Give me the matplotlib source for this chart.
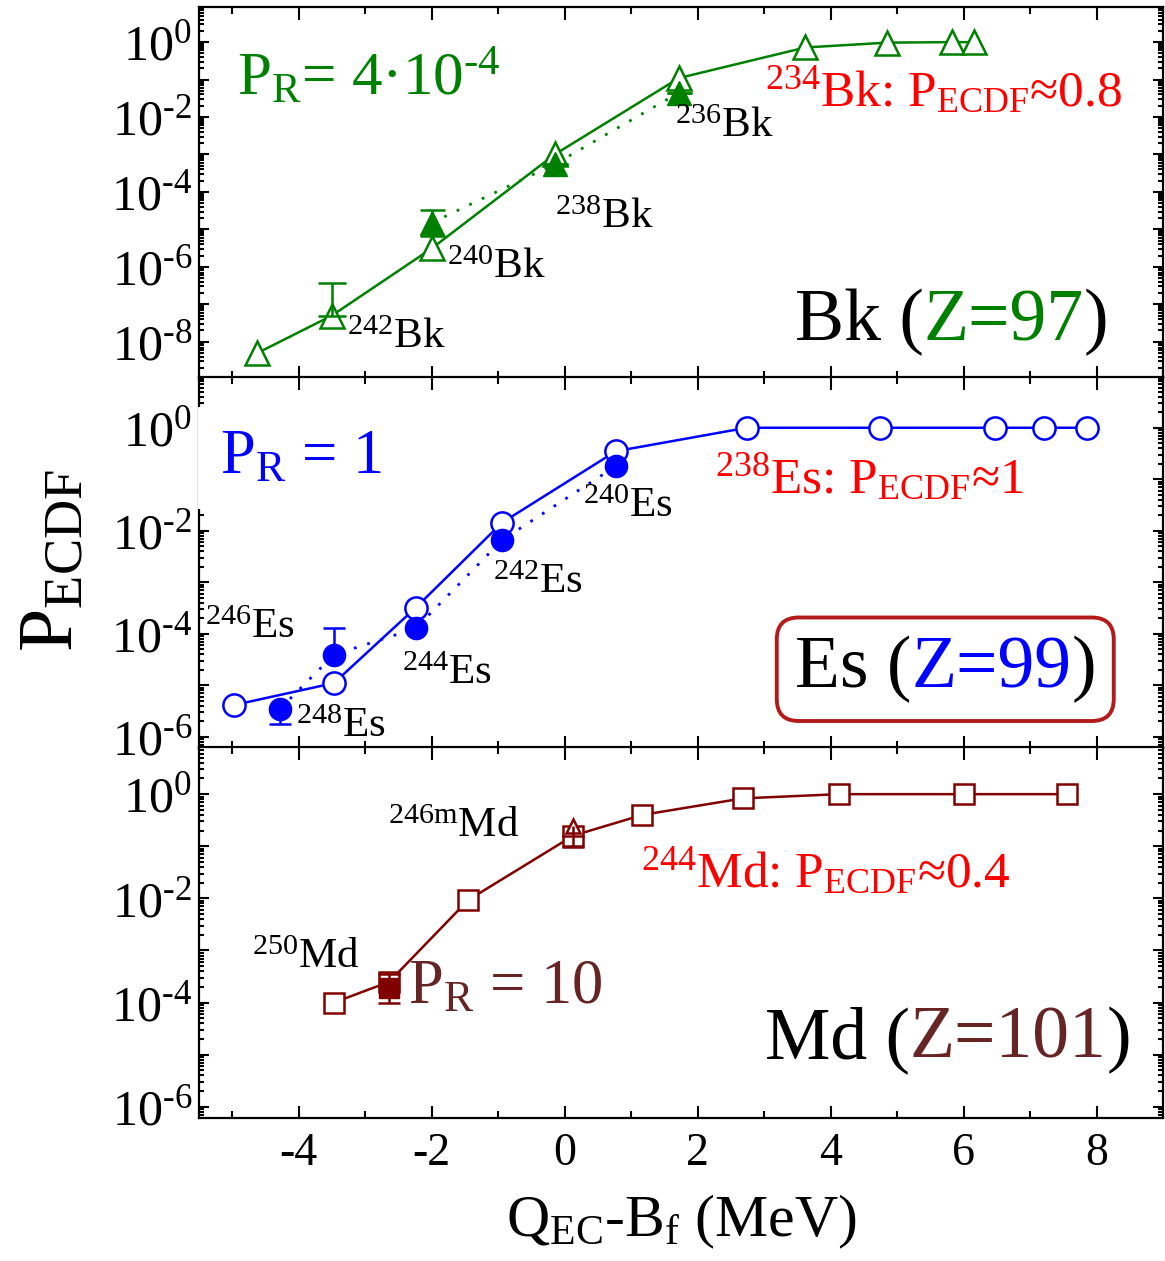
import numpy as np
import matplotlib
matplotlib.use('Agg')
import matplotlib.pyplot as plt
import matplotlib.transforms as mtrans
from matplotlib.patches import FancyBboxPatch
from matplotlib.ticker import FixedLocator, MultipleLocator, LogLocator, NullFormatter, FuncFormatter

plt.rcParams['font.family'] = ['Liberation Serif', 'DejaVu Serif']
plt.rcParams['mathtext.fontset'] = 'custom'
plt.rcParams['mathtext.rm'] = 'Liberation Serif'
plt.rcParams['mathtext.default'] = 'regular'
plt.rcParams['axes.unicode_minus'] = False

# ---- Bk (Z=97) ----
bk_x = [-4.62, -3.50, -2.00, -0.15, 1.72, 3.62, 4.85, 5.82, 6.16]
bk_p = [5e-9, 5e-8, 3.1e-6, 1.0e-3, 0.11, 0.72, 0.97, 1.0, 1.0]
bk_exp_x = [-2.00, -0.15, 1.72]
bk_exp_p = [1.5e-5, 5.5e-4, 0.045]
bk_exp_lo = [6.6e-6, 5.5e-4, 0.045]
bk_exp_hi = [3.3e-5, 5.5e-4, 0.045]
bk_lim_x = [-3.50]
bk_lim_p = [5e-8]
bk_lim_hi = [3.7e-7]

# ---- Es (Z=99) ----
es_x = [-4.98, -3.47, -2.24, -0.94, 0.77, 2.74, 4.75, 6.48, 7.21, 7.85]
es_p = [4.1e-6, 1.1e-5, 3.2e-4, 1.44e-2, 0.35, 1.0, 1.0, 1.0, 1.0, 1.0]
es_exp_x = [-4.28, -3.47, -2.24, -0.94, 0.77]
es_exp_p = [3.5e-6, 3.9e-5, 1.27e-4, 6.6e-3, 0.18]
es_exp_lo = [1.8e-6, 3.9e-5, 1.27e-4, 6.6e-3, 0.18]
es_exp_hi = [3.5e-6, 1.27e-4, 1.27e-4, 6.6e-3, 0.18]

# ---- Md (Z=101) ----
md_x = [-3.47, -2.64, -1.45, 0.13, 1.17, 2.68, 4.12, 6.01, 7.56]
md_p = [1.0e-4, 2.5e-4, 9.3e-3, 0.16, 0.40, 0.83, 1.0, 1.0, 1.0]
md_exp_x = [-2.64]
md_exp_p = [1.9e-4]
md_exp_lo = [1.0e-4]
md_exp_hi = [3.5e-4]
md_lim_x = [0.13]
md_lim_p = [0.16]
md_lim_lo = [0.098]
md_lim_hi = [0.25]

green = '#008000'
blue = '#0000ff'
maroon = '#800000'
brown = '#662424'
red = '#ff0000'

fig = plt.figure(figsize=(11.65, 12.61), dpi=100)
L, W = 0.1708, 0.8275
ax1 = fig.add_axes([L, 0.7002, W, 0.2940])
ax2 = fig.add_axes([L, 0.4068, W, 0.2940])
ax3 = fig.add_axes([L, 0.1132, W, 0.2942])


def ylab(v, pos):
    k = int(round(np.log10(v)))
    if k % 2:
        return ''
    if k < 0:
        return r'10$^{\text{-}%d}$' % (-k)
    return r'10$^{%d}$' % k


def style(ax, ylim):
    ax.set_yscale('log')
    ax.set_xlim(-5.5, 9)
    ax.set_ylim(*ylim)
    lo = int(np.floor(np.log10(ylim[0])))
    hi = int(np.ceil(np.log10(ylim[1])))
    ax.yaxis.set_major_locator(FixedLocator([10.0 ** k for k in range(lo, hi + 1)]))
    ax.yaxis.set_major_formatter(FuncFormatter(ylab))
    ax.yaxis.set_minor_locator(LogLocator(base=10, subs=np.arange(2, 10), numticks=100))
    ax.yaxis.set_minor_formatter(NullFormatter())
    ax.xaxis.set_major_locator(MultipleLocator(2))
    ax.xaxis.set_minor_locator(MultipleLocator(1))
    ax.tick_params(which='both', direction='in', top=True, right=True, width=1.5)
    ax.tick_params(axis='x', which='major', length=9, pad=10, labelsize=33)
    ax.tick_params(axis='x', which='minor', length=5)
    ax.tick_params(axis='y', which='major', length=7, pad=5, labelsize=36)
    ax.tick_params(axis='y', which='minor', length=3.5)
    for s in ax.spines.values():
        s.set_linewidth(1.6)


style(ax1, (10 ** -8.97, 10 ** 0.93))
style(ax2, (10 ** -6.22, 10 ** 0.98))
style(ax3, (10 ** -6.22, 10 ** 0.90))
ax1.tick_params(labelbottom=False)
ax2.tick_params(labelbottom=False)

dots = (0, (1, 4))


def errs(p, lo, hi):
    p = np.array(p)
    return [p - np.array(lo), np.array(hi) - p]


# Bk
ax1.plot(bk_x, bk_p, '-^', color=green, mfc='white', ms=17, mew=1.8, lw=1.8)
ax1.errorbar(bk_lim_x, bk_lim_p, yerr=errs(bk_lim_p, bk_lim_p, bk_lim_hi), fmt='none',
             ecolor=green, capsize=10, elinewidth=1.8, capthick=1.8)
ax1.errorbar(bk_exp_x, bk_exp_p, yerr=errs(bk_exp_p, bk_exp_lo, bk_exp_hi), fmt='^',
             ls=dots, color=green, ms=17, lw=2, capsize=9, elinewidth=1.8, capthick=1.8)

# Es
ax2.plot(es_x, es_p, '-o', color=blue, mfc='white', ms=16, mew=1.8, lw=1.8)
ax2.errorbar(es_exp_x, es_exp_p, yerr=errs(es_exp_p, es_exp_lo, es_exp_hi), fmt='o',
             ls=dots, color=blue, ms=16, lw=2, capsize=8, elinewidth=1.8, capthick=1.8)

# Md
ax3.plot(md_x, md_p, '-s', color=maroon, mfc='white', ms=15, mew=1.8, lw=1.8)
ax3.errorbar(md_exp_x, md_exp_p, yerr=errs(md_exp_p, md_exp_lo, md_exp_hi), fmt='s',
             color=maroon, ms=15, capsize=8, elinewidth=1.8, capthick=1.8)
ax3.errorbar(md_lim_x, md_lim_p, yerr=errs(md_lim_p, md_lim_lo, md_lim_p), fmt='none',
             ecolor=maroon, capsize=8, elinewidth=1.8, capthick=1.8)
ax3.plot(md_lim_x, md_lim_hi, '^', color=maroon, mfc='white', ms=10, mew=1.8)
ax3.vlines(md_lim_x, md_lim_p, md_lim_hi, color=maroon, lw=1.8)


def lab(ax, x, y, s, size=31, color='black', **kw):
    return ax.text(x, y, s, transform=ax.transAxes, fontsize=size, color=color,
                   ha='left', va='baseline', **kw)


renderer = fig.canvas.get_renderer()


def color_text(ax, x, y, parts, size):
    dx = 0
    texts = []
    for s, c in parts:
        tr = mtrans.offset_copy(ax.transAxes, fig=fig, x=dx, y=0, units='dots')
        t = ax.text(x, y, s, transform=tr, fontsize=size, color=c, ha='left', va='baseline')
        dx += t.get_window_extent(renderer).width
        texts.append(t)
    return texts


# Bk labels
lab(ax1, 0.039, 0.763, r'P$_R$= 4·10$^{\text{-}4}$', 44, green)
lab(ax1, 0.587, 0.732, r'$^{234}$Bk: P$_{ECDF}$≈0.8', 37, red)
lab(ax1, 0.494, 0.651, r'$^{236}$Bk')
lab(ax1, 0.369, 0.404, r'$^{238}$Bk')
lab(ax1, 0.257, 0.269, r'$^{240}$Bk')
lab(ax1, 0.154, 0.080, r'$^{242}$Bk')
color_text(ax1, 0.618, 0.1025, [('Bk (', 'black'), ('Z=97', green), (')', 'black')], 53)

# Es labels
lab(ax2, 0.0218, 0.741, r'P$_R$ = 1', 45, blue,
    bbox=dict(boxstyle='square,pad=0.35', fc='white', ec='none'), zorder=5)
lab(ax2, 0.535, 0.688, r'$^{238}$Es: P$_{ECDF}$≈1', 37, red)
lab(ax2, 0.398, 0.624, r'$^{240}$Es')
lab(ax2, 0.305, 0.417, r'$^{242}$Es')
lab(ax2, 0.211, 0.174, r'$^{244}$Es')
lab(ax2, 0.0062, 0.296, r'$^{246}$Es')
lab(ax2, 0.1006, 0.0305, r'$^{248}$Es')
es_parts = color_text(ax2, 0.618, 0.1646, [('Es (', 'black'), ('Z=99', blue), (')', 'black')], 53)
bb = mtrans.Bbox.union([t.get_window_extent(renderer) for t in es_parts])
box = FancyBboxPatch((bb.x0, bb.y0), bb.width, bb.height,
                     boxstyle='round,pad=18,rounding_size=22', mutation_scale=1,
                     transform=mtrans.IdentityTransform(), fc='none', ec='#b31b1b', lw=2.8,
                     clip_on=False)
ax2.add_artist(box)

# Md labels
lab(ax3, 0.196, 0.757, r'$^{246m}$Md')
lab(ax3, 0.458, 0.624, r'$^{244}$Md: P$_{ECDF}$≈0.4', 37, red)
lab(ax3, 0.0546, 0.404, r'$^{250}$Md')
lab(ax3, 0.217, 0.310, r'P$_R$ = 10', 45, brown)
color_text(ax3, 0.587, 0.1625, [('Md (', 'black'), ('Z=101', brown), (')', 'black')], 53)

fig.text(53 / 1165, 1 - 560 / 1261, r'P$_{ECDF}$', rotation=90, ha='center', va='center',
         fontsize=56)
fig.text(681 / 1165, 1 - 1222 / 1261, r'Q$_{EC}$-B$_f$ (MeV)', ha='center', va='center',
         fontsize=43)

fig.savefig('out.png', dpi=100)
